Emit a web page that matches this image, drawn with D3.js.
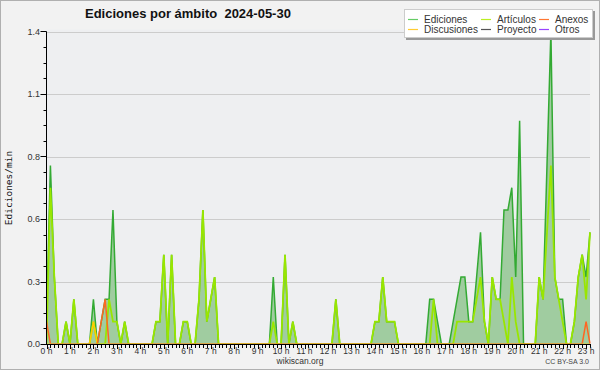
<!DOCTYPE html>
<html><head><meta charset="utf-8">
<script src="https://cdn.jsdelivr.net/npm/d3@7"></script>
<style>body{margin:0;background:#f2f2f2}svg{display:block}</style>
</head><body>
<svg id="c" width="600" height="370"></svg>
<script>
// 10-minute buckets from 00:00 to 23:10, values in edits per minute
const minutes = d3.range(0, 1400, 10);
const ediciones = [0.1,0.8,0.3,0,0,0.1,0,0.2,0,0,
0,0,0.2,0,0.1,0.2,0.2,0.6,0.1,0,
0.1,0,0,0,0,0,0,0,0.1,0.1,
0.4,0,0.4,0,0,0.1,0.1,0,0,0.2,
0.6,0.1,0.2,0.3,0,0,0,0,0,0,
0,0,0,0,0,0,0,0,0.3,0,
0,0.4,0,0.1,0,0,0,0,0,0,
0,0,0,0,0.2,0,0,0,0,0,
0,0,0,0,0.1,0.1,0.3,0.1,0.1,0.1,
0,0,0,0,0,0,0,0,0.2,0.2,
0.1,0,0,0,0.1,0.2,0.3,0.3,0.1,0.1,
0.3,0.5,0.1,0,0.3,0.2,0.2,0.6,0.6,0.7,
0.3,1.0,0,0,0,0,0.3,0.2,0.8,1.4,
0.3,0.2,0.2,0,0,0.1,0.3,0.4,0.3,0.5];
const articulos = [0,0.7,0.3,0,0,0.1,0,0.2,0,0,
0,0,0.1,0,0,0,0.2,0.1,0.1,0,
0.1,0,0,0,0,0,0,0,0.1,0.1,
0.4,0,0.4,0,0,0.1,0.1,0,0,0.2,
0.6,0.1,0.2,0.3,0,0,0,0,0,0,
0,0,0,0,0,0,0,0,0.1,0,
0,0.4,0,0.1,0,0,0,0,0,0,
0,0,0,0,0.2,0,0,0,0,0,
0,0,0,0,0.1,0.1,0.3,0.1,0.1,0.1,
0,0,0,0,0,0,0,0,0,0.2,
0,0,0,0,0,0.1,0.1,0.1,0.1,0.1,
0.2,0.3,0.1,0,0.3,0.2,0.2,0.1,0,0.3,
0.1,0,0,0,0,0,0.3,0.2,0.5,0.8,
0.3,0.2,0.1,0,0,0.1,0.3,0.4,0.2,0.5];
const anexos = [0.1,0,0,0,0,0,0,0,0,0,
0,0,0,0,0.1,0.2,0,0,0,0,
0,0,0,0,0,0,0,0,0,0,
0,0,0,0,0,0,0,0,0,0,
0,0,0,0,0,0,0,0,0,0,
0,0,0,0,0,0,0,0,0,0,
0,0,0,0,0,0,0,0,0,0,
0,0,0,0,0,0,0,0,0,0,
0,0,0,0,0,0,0,0,0,0,
0,0,0,0,0,0,0,0,0,0,
0,0,0,0,0,0,0,0,0,0,
0,0,0,0,0,0,0,0,0,0,
0,0,0,0,0,0,0,0,0,0,
0,0,0,0,0,0,0,0,0.1,0];
const discusiones = [0,0,0,0,0,0,0,0,0,0,
0,0,0.1,0,0,0,0,0,0,0,
0,0,0,0,0,0,0,0,0,0,
0,0,0,0,0,0,0,0,0,0,
0,0,0,0,0,0,0,0,0,0,
0,0,0,0,0,0,0,0,0,0,
0,0,0,0,0,0,0,0,0,0,
0,0,0,0,0,0,0,0,0,0,
0,0,0,0,0,0,0,0,0,0,
0,0,0,0,0,0,0,0,0,0,
0,0,0,0,0,0,0,0,0,0,
0,0,0,0,0,0,0,0,0,0,
0,0,0,0,0,0,0,0,0,0,
0,0,0,0,0,0,0,0,0,0];
const xTickHours = d3.range(0, 24);
const xTickLabels = xTickHours.map(h => h + " h");
const yTicks = [0, 0.28, 0.56, 0.84, 1.12, 1.4];
const yTickLabels = ["0.0", "0.3", "0.6", "0.8", "1.1", "1.4"];
const legendNames = ["Ediciones", "Discusiones", "Artículos", "Proyecto", "Anexos", "Otros"];
const legendColors = ["#66cc66", "#ffcc33", "#bbee22", "#555555", "#ff7733", "#9944ff"];
const titleText = "Ediciones por ámbito  2024-05-30";

const svg = d3.select("#c");
const L = 46.5, R = 590, T = 31.5, B = 344;
const x = d3.scaleLinear().domain([0, 1390]).range([L, R]);
const y = d3.scaleLinear().domain([0, 1.4]).range([B, T]);

svg.append("rect").attr("x", 0.5).attr("y", 0.5).attr("width", 599).attr("height", 369)
  .attr("fill", "#f2f2f2").attr("stroke", "#b0b0b0");
svg.append("rect").attr("x", L).attr("y", T - 2).attr("width", R - L).attr("height", B - T + 2)
  .attr("fill", "#eeeff1");

// grid
svg.append("g").selectAll("line").data(yTicks.slice(1)).join("line")
  .attr("x1", L).attr("x2", R).attr("y1", d => Math.round(y(d)) + 0.5).attr("y2", d => Math.round(y(d)) + 0.5)
  .attr("stroke", "#cccccc").attr("stroke-width", 1);

const pts = minutes.map((m, i) => i);
svg.append("clipPath").attr("id", "cl").append("rect")
  .attr("x", L).attr("y", 0).attr("width", R - L + 2).attr("height", B - 0.6);

const area = d3.area().x(i => x(minutes[i])).y0(B).y1(i => y(ediciones[i]));
svg.append("path").datum(pts).attr("d", area).attr("fill", "#a0cca0");
const g = svg.append("g").attr("clip-path", "url(#cl)");
function line(arr) { return d3.line().x(i => x(minutes[i])).y(i => y(arr[i]))(pts); }
g.append("path").attr("d", line(ediciones)).attr("fill", "none").attr("stroke", "#33aa33").attr("stroke-width", 1.5);
g.append("path").attr("d", line(articulos)).attr("fill", "none").attr("stroke", "#99e600").attr("stroke-width", 1.8);
g.append("path").attr("d", line(discusiones)).attr("fill", "none").attr("stroke", "#ffcc00").attr("stroke-width", 1.5);
g.append("path").attr("d", line(anexos)).attr("fill", "none").attr("stroke", "#ff6622").attr("stroke-width", 1.5);

// axes
const yAxis = svg.append("g");
yAxis.append("line").attr("x1", L).attr("x2", L).attr("y1", T).attr("y2", B + 1).attr("stroke", "#000");
const minorY = d3.range(0, 21).map(k => k * 0.07);
yAxis.selectAll(".my").data(minorY).join("line")
  .attr("x1", (d, k) => k % 4 === 0 ? L - 6 : L - 3).attr("x2", L)
  .attr("y1", d => Math.round(y(d)) + 0.5).attr("y2", d => Math.round(y(d)) + 0.5).attr("stroke", "#000");
yAxis.selectAll("text").data(yTicks).join("text")
  .attr("x", 40).attr("y", d => y(d)).attr("dy", "0.35em").attr("text-anchor", "end")
  .attr("font-family", "Liberation Sans, Arial, sans-serif").attr("font-size", 9).attr("fill", "#333")
  .text((d, i) => yTickLabels[i]);

const xAxis = svg.append("g");
xAxis.append("line").attr("x1", L - 1).attr("x2", R + 1).attr("y1", B + 0.5).attr("y2", B + 0.5).attr("stroke", "#000");
xAxis.selectAll(".mx").data(minutes).join("line")
  .attr("x1", d => Math.round(x(d)) + 0.5).attr("x2", d => Math.round(x(d)) + 0.5)
  .attr("y1", B).attr("y2", d => d % 60 === 0 ? B + 5 : B + 4).attr("stroke", "#000");
xAxis.selectAll("text").data(xTickHours).join("text")
  .attr("x", d => x(d * 60)).attr("y", 353.5).attr("text-anchor", "middle")
  .attr("font-family", "Liberation Sans, Arial, sans-serif").attr("font-size", 8.5).attr("fill", "#333")
  .text((d, i) => xTickLabels[i]);

// labels
svg.append("text").attr("x", 85).attr("y", 18).attr("font-family", "Liberation Sans, Arial, sans-serif")
  .attr("font-weight", "bold").attr("font-size", 13).attr("fill", "#111").attr("xml:space", "preserve")
  .style("white-space", "pre").text(titleText);
svg.append("text").attr("transform", "translate(12,188) rotate(-90)").attr("text-anchor", "middle")
  .attr("font-family", "DejaVu Sans Mono, monospace").attr("font-size", 9.5).attr("fill", "#111")
  .text("Ediciones/min");
svg.append("text").attr("x", 300).attr("y", 364).attr("text-anchor", "middle")
  .attr("font-family", "Liberation Sans, Arial, sans-serif").attr("font-size", 8.5).attr("fill", "#333")
  .text("wikiscan.org");
svg.append("text").attr("x", 589).attr("y", 364).attr("text-anchor", "end")
  .attr("font-family", "Liberation Sans, Arial, sans-serif").attr("font-size", 7).attr("fill", "#444")
  .text("CC BY-SA 3.0");

// legend
const lg = svg.append("g");
lg.append("rect").attr("x", 406).attr("y", 11).attr("width", 189).attr("height", 29).attr("fill", "#999");
lg.append("rect").attr("x", 404.5).attr("y", 9.5).attr("width", 188).attr("height", 28).attr("fill", "#fff").attr("stroke", "#ccc");
const colX = [408, 481, 539], textX = [424, 497, 555], rowY = [19, 29];
legendNames.forEach((n, i) => {
  const c = Math.floor(i / 2), r = i % 2;
  lg.append("line").attr("x1", colX[c]).attr("x2", colX[c] + 10).attr("y1", rowY[r] + 0.5).attr("y2", rowY[r] + 0.5)
    .attr("stroke", legendColors[i]).attr("stroke-width", 1.2);
  lg.append("text").attr("x", textX[c]).attr("y", rowY[r] + 3.5)
    .attr("font-family", "Liberation Sans, Arial, sans-serif").attr("font-size", 10).attr("fill", "#333").text(n);
});
</script>
</body></html>
